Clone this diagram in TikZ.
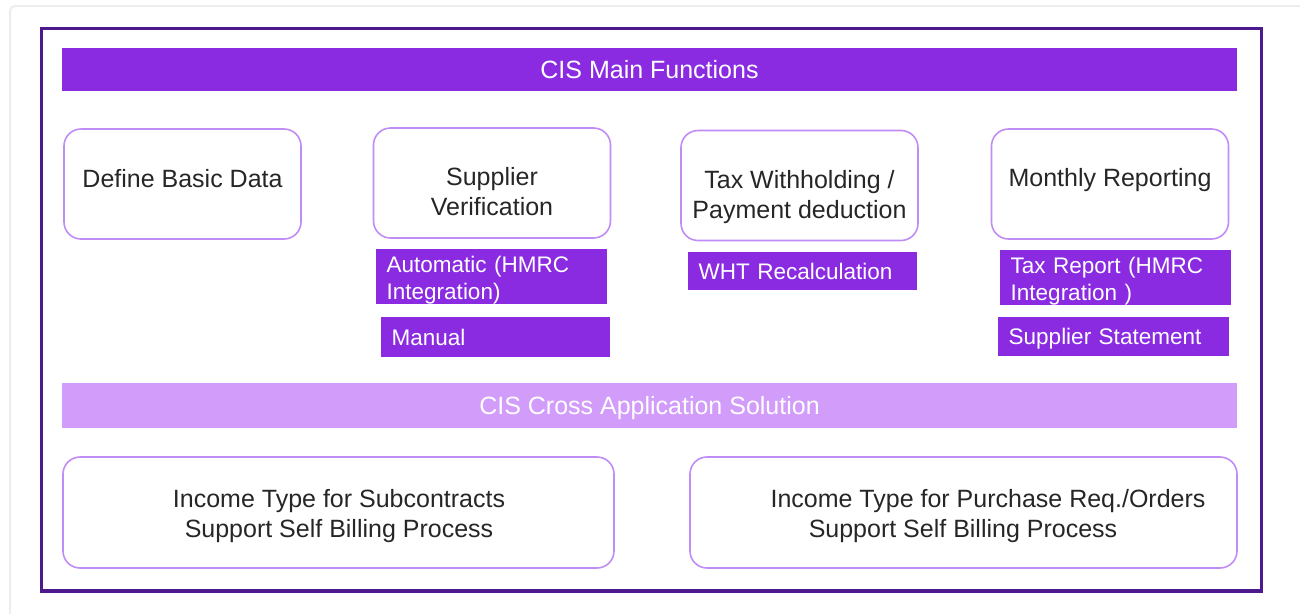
\documentclass[tikz,border=0pt]{standalone}
\usepackage{fontspec}
\setmainfont{Liberation Sans}
\usepackage{xcolor}
\definecolor{cisframe}{RGB}{76,26,140}
\definecolor{cispurple}{RGB}{138,43,226}
\definecolor{cislight}{RGB}{210,156,250}
\definecolor{cisline}{RGB}{192,140,246}
\tikzset{
  bar/.style={fill=#1, text=white, minimum width=1175pt, minimum height=43pt, inner sep=0pt, text depth=0pt, font=\fontsize{25}{30}\selectfont},
  funcbox/.style={draw=cisline, line width=1.6pt, rounded corners=17pt, minimum width=237pt, minimum height=110pt, inner sep=0pt},
  functext/.style={text=black!85, align=center, inner sep=0pt, font=\fontsize{25}{30}\selectfont},
  subbox/.style={fill=cispurple, text=white, align=left, inner xsep=10.5pt, inner ysep=0pt, font=\fontsize{22.5}{27.5}\selectfont}
}

\begin{document}
\begin{tikzpicture}[x=1pt,y=-1pt]
\useasboundingbox (0,0) rectangle (1300,614);
\draw[black!7, line width=2pt, rounded corners=5pt] (10,614) |- (1300,6);
\draw[cisframe, line width=3.5pt] (41.5,28.5) rectangle (1261.5,591);
% headers
\node[bar=cispurple] (main) at (649.5,69.5) {CIS Main Functions};
\node[bar=cislight, minimum height=45pt] (cross) at (649.5,405.5) {CIS Cross Application Solution};
% main functions
\foreach \nm/\cx/\cy/\ty/\txt in {basic/182.5/184/169/{Define Basic Data}, verif/492/183/167/{Supplier\\Verification}, tax/799.5/185.5/170/{Tax Withholding /\\Payment deduction}, month/1110/184/168/{Monthly Reporting}} {
  \node[funcbox] (\nm) at (\cx,\cy) {};
  \node[functext, anchor=north] (\nm-txt) at (\cx,\ty) {\txt};
}
% sub functions
\foreach \nm/\x/\y/\w/\h/\tw/\txt in {auto/376/249/231/55/210/{Automatic (HMRC\\Integration)}, taxrep/1000/250/231/55/210/{Tax Report (HMRC\\Integration )}} {
  \node[subbox, text height=23pt, minimum width=\w pt, minimum height=\h pt, text width=\tw pt, anchor=north west] (\nm) at (\x,\y) {\txt};
}
\foreach \nm/\x/\y/\w/\h/\tw/\txt in {manual/381/317/229/40/208/{Manual}, wht/688/252/229/38/208/{WHT Recalculation}, suppst/998/317/231/39/210/{Supplier Statement}} {
  \node[subbox, text depth=0pt, minimum width=\w pt, minimum height=\h pt, text width=\tw pt, anchor=north west] (\nm) at (\x,\y) {\txt};
}
% cross application
\node[funcbox, minimum width=551pt, minimum height=111pt] (subc) at (338.5,512.5) {};
\node[functext, anchor=north] (subc-txt) at (339,489) {Income Type for Subcontracts\\Support Self Billing Process};
\node[funcbox, minimum width=547pt, minimum height=111pt] (purch) at (963.5,512.5) {};
\node[functext, anchor=north] (purch-txt) at (988,489) {Income Type for Purchase Req./Orders\\Support Self Billing Process\hspace*{50pt}};
\end{tikzpicture}
\end{document}
